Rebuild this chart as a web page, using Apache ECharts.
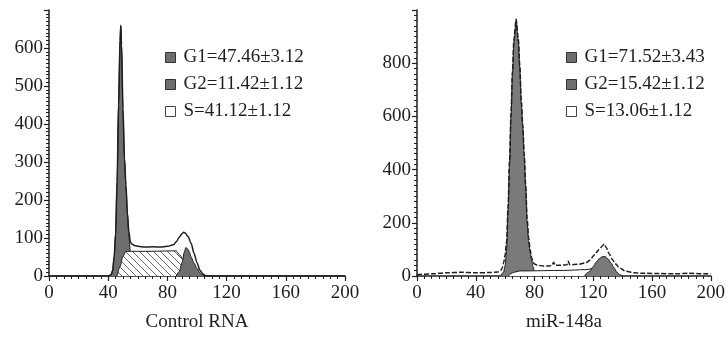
<!DOCTYPE html>
<html>
<head>
<meta charset="utf-8">
<script src="https://cdn.jsdelivr.net/npm/echarts@6.0.0/dist/echarts.min.js"></script>
<style>
  html, body { margin: 0; padding: 0; background: #fff; }
  #main { width: 728px; height: 337px; }
</style>
</head>
<body>
<div id="main"></div>
<script>
// Control RNA panel (DNA content vs. cell count)
const controlLegend = ['G1=47.46±3.12', 'G2=11.42±1.12', 'S=41.12±1.12'];
const controlG1 = [[40,0],[42,3],[43,15],[44,50],[45,110],[46,250],[47,450],[48,620],[48.5,658],[49,605],[50,435],[51,305],[52,235],[53,160],[54,105],[55,62],[56,35],[57,15],[58,5],[60,0]];
const controlS = [[46,0],[48,25],[50,52],[52,65],[60,65],[70,65],[80,66],[86,66],[88,56],[92,36],[96,12],[98,0]];
const controlG2 = [[86,0],[88,12],[90,36],[91.5,64],[92.5,75],[94,70],[95,62],[96,50],[98,34],[100,20],[102,8],[104,2],[106,0]];
const controlFit = [[0,0],[40,0],[42,3],[43,15],[44,50],[45,110],[46,250],[47,450],[48,620],[48.5,660],[49,610],[50,440],[51,310],[52,240],[53,165],[54,115],[55,90],[56,84],[58,80],[60,78],[65,76],[70,77],[75,76],[80,78],[84,82],[86,90],[88,102],[90,112],[91,115],[92,113],[94,104],[96,86],[98,60],[100,35],[102,15],[104,5],[106,0],[200,0]];

// miR-148a panel
const mirLegend = ['G1=71.52±3.43', 'G2=15.42±1.12', 'S=13.06±1.12'];
const mirG1 = [[57,0],[59,15],[60,40],[61,100],[62,250],[63,420],[64,600],[65,760],[66,880],[67.5,960],[69,880],[70,780],[71,650],[72,560],[73,450],[74,330],[75,200],[76,130],[77,90],[78,60],[79,35],[80,15],[82,0]];
const mirS = [[62,0],[66,14],[70,19],[100,21],[115,24],[122,29],[126,34],[129,24],[132,10],[134,0]];
const mirG2 = [[114,0],[117,15],[120,35],[122,52],[124,65],[126,72],[128,73],[130,65],[132,50],[134,32],[136,15],[138,5],[140,0]];
const mirFit = [[0,5],[10,8],[20,12],[30,14],[40,12],[50,13],[55,15],[57,20],[58,30],[59,50],[60,80],[61,130],[62,260],[63,430],[64,610],[65,770],[66,890],[67.5,965],[69,890],[70,790],[71,660],[72,570],[73,460],[74,340],[75,215],[76,145],[77,100],[78,70],[79,52],[80,45],[82,40],[86,38],[90,38],[92,40],[93,52],[94,40],[98,40],[102,42],[103,55],[104,42],[110,44],[115,50],[118,60],[120,75],[122,88],[124,100],[126,112],[127.5,120],[129,105],[131,82],[133,62],[135,46],[138,30],[142,18],[148,12],[155,10],[165,9],[175,8],[185,10],[195,8],[200,8]];

const font = 'Liberation Serif';
const ink = '#1e1e1e';
const grey = '#6e6e6e';

// diagonal hatch for the S phase
const hatch = document.createElement('canvas');
hatch.width = 7; hatch.height = 7;
(function () {
  const c = hatch.getContext('2d');
  c.fillStyle = '#fff';
  c.fillRect(0, 0, 7, 7);
  c.strokeStyle = '#666';
  c.lineWidth = 1;
  c.beginPath();
  c.moveTo(-1, -1); c.lineTo(8, 8);
  c.moveTo(-1, 6); c.lineTo(1, 8);
  c.moveTo(6, -1); c.lineTo(8, 1);
  c.stroke();
})();

function xAxis(idx, name) {
  return {
    type: 'value', gridIndex: idx, min: 0, max: 200, interval: 40,
    name: name, nameLocation: 'middle', nameGap: 37,
    nameTextStyle: { fontFamily: font, fontSize: 19, color: ink },
    axisLine: { onZero: false, lineStyle: { color: ink, width: 1.5 } },
    axisTick: { length: 5, lineStyle: { color: ink, width: 1.2 } },
    minorTick: { show: true, splitNumber: 8, length: 3, lineStyle: { color: ink } },
    splitLine: { show: false },
    axisLabel: { fontFamily: font, fontSize: 19, color: ink, margin: 8 }
  };
}

function yAxis(idx, max, step) {
  return {
    type: 'value', gridIndex: idx, min: 0, max: max, interval: step,
    axisLine: { show: true, onZero: false, lineStyle: { color: ink, width: 1.5 } },
    axisTick: { show: true, length: 5, lineStyle: { color: ink, width: 1.2 } },
    minorTick: { show: true, splitNumber: 10, length: 3, lineStyle: { color: ink } },
    splitLine: { show: false },
    axisLabel: { fontFamily: font, fontSize: 19, color: ink, margin: 6, showMaxLabel: false }
  };
}

function area(idx, name, data, fill, z) {
  return {
    type: 'line', name: name, xAxisIndex: idx, yAxisIndex: idx, data: data,
    smooth: 0.3, smoothMonotone: 'x', showSymbol: false, z: z,
    lineStyle: { color: ink, width: 1 },
    itemStyle: { color: grey },
    areaStyle: { color: fill, opacity: 1 }
  };
}

function fit(idx, data, dashed) {
  return {
    type: 'line', name: 'fit', xAxisIndex: idx, yAxisIndex: idx, data: data,
    smooth: 0.3, smoothMonotone: 'x', showSymbol: false, z: 10,
    lineStyle: { color: ink, width: 1.5, type: dashed ? [5, 2] : 'solid' }
  };
}

function legend(left, names) {
  return {
    left: left, top: 43, orient: 'vertical', icon: 'rect',
    itemWidth: 10, itemHeight: 10, itemGap: 8,
    textStyle: { fontFamily: font, fontSize: 19, color: ink, padding: [0, 0, 0, 3] },
    data: [
      { name: names[0], itemStyle: { color: grey, borderColor: '#333', borderWidth: 1 } },
      { name: names[1], itemStyle: { color: grey, borderColor: '#333', borderWidth: 1 } },
      { name: names[2], itemStyle: { color: '#fff', borderColor: '#444', borderWidth: 1 } }
    ]
  };
}

const chart = echarts.init(document.getElementById('main'), null, { renderer: 'canvas' });
chart.setOption({
  animation: false,
  backgroundColor: '#fff',
  grid: [
    { left: 49, top: 10, width: 296, bottom: 54 },
    { left: 417, top: 10, width: 294, bottom: 54 }
  ],
  xAxis: [xAxis(0, 'Control RNA'), xAxis(1, 'miR-148a')],
  yAxis: [yAxis(0, 700, 100), yAxis(1, 1000, 200)],
  legend: [legend(160, controlLegend), legend(561, mirLegend)],
  series: [
    area(0, controlLegend[0], controlG1, grey, 2),
    area(0, controlLegend[2], controlS, { image: hatch, repeat: 'repeat' }, 3),
    area(0, controlLegend[1], controlG2, grey, 4),
    fit(0, controlFit, false),
    area(1, mirLegend[0], mirG1, '#7a7a7a', 2),
    area(1, mirLegend[2], mirS, '#fff', 3),
    area(1, mirLegend[1], mirG2, '#7a7a7a', 4),
    fit(1, mirFit, true)
  ]
});
</script>
</body>
</html>
